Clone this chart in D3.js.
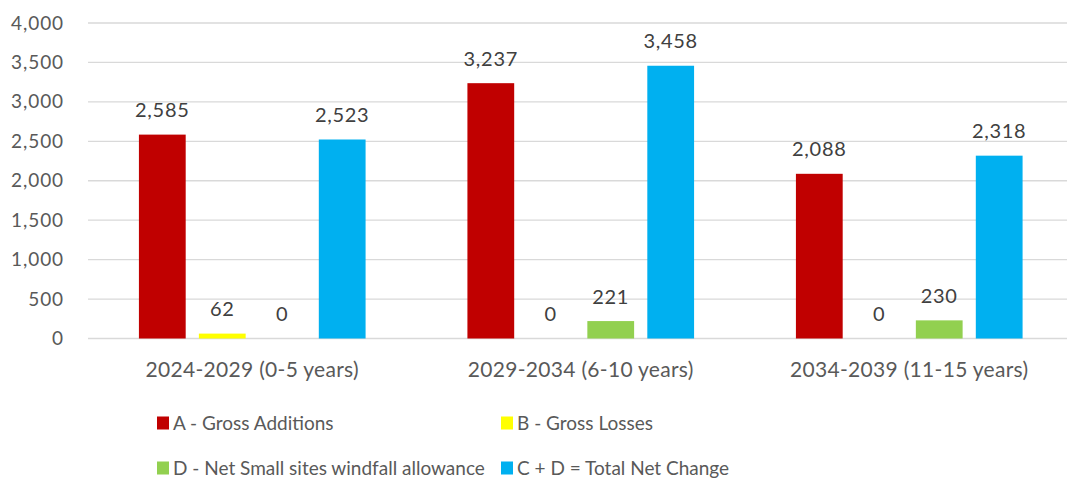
<!DOCTYPE html>
<html>
<head>
<meta charset="utf-8">
<script src="https://cdn.jsdelivr.net/npm/d3@7"></script>
<style>
  html, body { margin: 0; padding: 0; background: #fff; }
  svg { display: block; font-family: Lato, "Open Sans", sans-serif; }
</style>
</head>
<body>
<svg id="chart" width="1067" height="479"></svg>
<script>
// Housing supply by period
const categories = ["2024-2029 (0-5 years)", "2029-2034 (6-10 years)", "2034-2039 (11-15 years)"];
const seriesNames = ["A - Gross Additions", "B - Gross Losses", "D - Net Small sites windfall allowance", "C + D = Total Net Change"];
const seriesColors = ["#C00000", "#FFFF00", "#92D050", "#00B0F0"];
const grossAdditions = [2585, 3237, 2088];
const grossLosses = [62, 0, 0];
const windfallAllowance = [0, 221, 230];
const totalNetChange = [2523, 3458, 2318];
const yTicks = [0, 500, 1000, 1500, 2000, 2500, 3000, 3500, 4000];

const seriesValues = [grossAdditions, grossLosses, windfallAllowance, totalNetChange];

const svg = d3.select("#chart");
const plot = { left: 88, right: 1073.5, top: 23, bottom: 338.5 };

const y = d3.scaleLinear().domain([0, 4000]).range([plot.bottom, plot.top]);
const x0 = d3.scaleBand().domain(categories).range([plot.left, plot.right]).padding(0);
const gw = x0.bandwidth();
const x1 = d3.scaleBand().domain(d3.range(seriesNames.length))
  .range([gw * 0.155, gw * 0.845]).paddingInner(0.22).paddingOuter(0);

const fmt = d3.format(",");

// gridlines
svg.append("g").selectAll("line").data(yTicks).join("line")
  .attr("x1", plot.left).attr("x2", plot.right)
  .attr("y1", d => y(d)).attr("y2", d => y(d))
  .attr("stroke", "#D9D9D9").attr("stroke-width", 1.3);

// y axis labels
const yAxis = d3.axisLeft(y).tickValues(yTicks).tickFormat(fmt).tickSize(0).tickPadding(0);
const ya = svg.append("g").attr("transform", `translate(64,0)`).call(yAxis);
ya.select(".domain").remove();
ya.selectAll("text").attr("font-size", 19).attr("fill", "#595959")
  .attr("letter-spacing", "0.9px")
  .attr("font-family", "Lato, 'Open Sans', sans-serif");

// bars
const groups = svg.append("g").selectAll("g").data(categories).join("g")
  .attr("transform", d => `translate(${x0(d)},0)`);

groups.each(function(cat, ci) {
  const g = d3.select(this);
  const rows = seriesValues.map((vals, si) => ({ si, v: vals[ci] }));
  g.selectAll("rect").data(rows).join("rect")
    .attr("x", d => x1(d.si)).attr("width", x1.bandwidth())
    .attr("y", d => y(d.v)).attr("height", d => y(0) - y(d.v))
    .attr("fill", d => seriesColors[d.si]);
  g.selectAll("text").data(rows).join("text")
    .attr("x", d => x1(d.si) + x1.bandwidth() / 2)
    .attr("y", d => y(d.v) - 17.5)
    .attr("text-anchor", "middle")
    .attr("font-size", 20).attr("letter-spacing", "0.7px").attr("fill", "#404040")
    .text(d => fmt(d.v));
});

// category axis labels
svg.append("g").selectAll("text").data(categories).join("text")
  .attr("x", d => x0(d) + gw / 2).attr("y", 377)
  .attr("text-anchor", "middle").attr("font-size", 21).attr("letter-spacing", "0.3px")
  .attr("fill", "#595959")
  .text(d => d);

// legend
const legendPos = [[157, 423], [501, 423], [157, 468], [501, 468]];
const lg = svg.append("g").selectAll("g").data(seriesNames).join("g")
  .attr("transform", (d, i) => `translate(${legendPos[i][0]},${legendPos[i][1]})`);
lg.append("rect").attr("x", 0).attr("y", -6.5).attr("width", 12).attr("height", 13)
  .attr("fill", (d, i) => seriesColors[i]);
lg.append("text").attr("x", 16).attr("y", 0).attr("dy", "0.35em")
  .attr("font-size", 19).attr("fill", "#595959").text(d => d);
</script>
</body>
</html>
